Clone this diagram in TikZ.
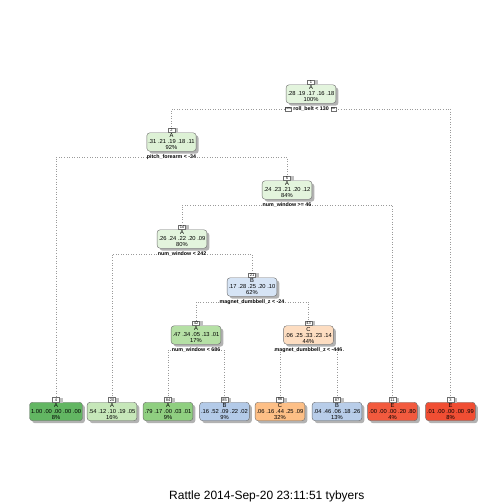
\documentclass[tikz,border=0pt]{standalone}
\usepackage{fontspec}
\setmainfont{Liberation Sans}
\usetikzlibrary{shadows}
\definecolor{gA0}{HTML}{E3F4DD}
\definecolor{gA1}{HTML}{DDF1D5}
\definecolor{gA2}{HTML}{B5E0A5}
\definecolor{gA3}{HTML}{62B662}
\definecolor{gA4}{HTML}{C6E7B9}
\definecolor{gA5}{HTML}{8FCF80}
\definecolor{bB0}{HTML}{D6E4F5}
\definecolor{bB1}{HTML}{B3CAE8}
\definecolor{bB2}{HTML}{B8CDE9}
\definecolor{oC0}{HTML}{FDDDC1}
\definecolor{oC1}{HTML}{FDBF86}
\definecolor{rE0}{HTML}{F25A3E}
\definecolor{rE1}{HTML}{F04E33}
\definecolor{boxline}{HTML}{6E6E6E}
\definecolor{connline}{HTML}{9A9A9A}
\begin{document}
\begin{tikzpicture}[x=1pt,y=-1pt,
  tnode/.style={draw=boxline, line width=0.4pt, rounded corners=3pt, align=center,
    font=\fontsize{5.8}{6}\selectfont, inner xsep=1.5pt, inner ysep=1.2pt,
    drop shadow={shadow xshift=2.5pt, shadow yshift=-2.5pt, fill=black!30, opacity=1}},
  nn/.style={draw=boxline, line width=0.3pt, fill=white, font=\fontsize{4}{4}\selectfont,
    inner sep=0.5pt, minimum width=7pt, minimum height=4.6pt, anchor=south,
    drop shadow={shadow xshift=3pt, shadow yshift=-0.6pt, fill=black!25, opacity=1}},
  yn/.style={draw=boxline, line width=0.3pt, fill=white, font=\fontsize{3.6}{4}\selectfont,
    inner sep=0.5pt, minimum height=4.4pt},
  splitlab/.style={font=\bfseries\fontsize{5.3}{5.5}\selectfont, inner sep=0.6pt},
  conn/.style={draw=connline, dotted, line width=0.55pt}
]
\useasboundingbox (0,0) rectangle (504,504);

% internal nodes
\node[tnode, fill=gA0] (n1) at (311,94) {A\\.28 .19 .17 .16 .18\\100\%};
\node[nn] (l1) at (n1.north) {1};
\node[splitlab] (s1) at (311,109) {roll\_belt < 130};
\node[yn, anchor=east] (yes) at ([xshift=-1pt]s1.west) {yes};
\node[yn, anchor=west] (no) at ([xshift=1pt]s1.east) {no};

\node[tnode, fill=gA1] (n2) at (171.5,142) {A\\.31 .21 .19 .18 .11\\92\%};
\node[nn] (l2) at (n2.north) {2};
\node[splitlab] (s2) at (171.5,157) {pitch\_forearm < -34};

\node[tnode, fill=gA0] (n5) at (287,190) {A\\.24 .23 .21 .20 .12\\84\%};
\node[nn] (l5) at (n5.north) {5};
\node[splitlab] (s5) at (287,205) {num\_window >= 46};

\node[tnode, fill=gA0] (n10) at (182,239) {A\\.26 .24 .22 .20 .09\\80\%};
\node[nn] (l10) at (n10.north) {10};
\node[splitlab] (s10) at (182,254) {num\_window < 242};

\node[tnode, fill=bB0] (n21) at (252,287) {B\\.17 .28 .25 .20 .10\\62\%};
\node[nn] (l21) at (n21.north) {21};
\node[splitlab] (s21) at (252,302) {magnet\_dumbbell\_z < -24};

\node[tnode, fill=gA2] (n42) at (196,335) {A\\.47 .34 .05 .13 .01\\17\%};
\node[nn] (l42) at (n42.north) {42};
\node[splitlab] (s42) at (196,350) {num\_window < 686};

\node[tnode, fill=oC0] (n43) at (308.5,335) {C\\.06 .25 .33 .23 .14\\44\%};
\node[nn] (l43) at (n43.north) {43};
\node[splitlab] (s43) at (308.5,350) {magnet\_dumbbell\_z < -446};

% leaves
\node[tnode, fill=gA3] (n4) at (56,411.5) {A\\1.00 .00 .00 .00 .00\\8\%};
\node[nn] (l4) at (n4.north) {4};
\node[tnode, fill=gA4] (n20) at (112,411.5) {A\\.54 .12 .10 .19 .05\\16\%};
\node[nn] (l20) at (n20.north) {20};
\node[tnode, fill=gA5] (n84) at (168,411.5) {A\\.79 .17 .00 .03 .01\\9\%};
\node[nn] (l84) at (n84.north) {84};
\node[tnode, fill=bB1] (n85) at (224.5,411.5) {B\\.16 .52 .09 .22 .02\\9\%};
\node[nn] (l85) at (n85.north) {85};
\node[tnode, fill=oC1] (n86) at (280,411.5) {C\\.06 .16 .44 .25 .09\\32\%};
\node[nn] (l86) at (n86.north) {86};
\node[tnode, fill=bB2] (n87) at (337,411.5) {B\\.04 .46 .06 .18 .26\\13\%};
\node[nn] (l87) at (n87.north) {87};
\node[tnode, fill=rE0] (n11) at (392.5,411.5) {E\\.00 .00 .00 .20 .80\\4\%};
\node[nn] (l11) at (n11.north) {11};
\node[tnode, fill=rE1] (n3) at (450.5,411.5) {E\\.01 .00 .00 .00 .99\\8\%};
\node[nn] (l3) at (n3.north) {3};

% connectors
\draw[conn] (yes.west) -| (l2.north);
\draw[conn] (no.east) -| (l3.north);
\draw[conn] (s2.west) -| (l4.north);
\draw[conn] (s2.east) -| (l5.north);
\draw[conn] (s5.west) -| (l10.north);
\draw[conn] (s5.east) -| (l11.north);
\draw[conn] (s10.west) -| (l20.north);
\draw[conn] (s10.east) -| (l21.north);
\draw[conn] (s21.west) -| (l42.north);
\draw[conn] (s21.east) -| (l43.north);
\draw[conn] (s42.west) -| (l84.north);
\draw[conn] (s42.east) -| (l85.north);
\draw[conn] (s43.west) -| (l86.north);
\draw[conn] (s43.east) -| (l87.north);

% caption
\node[font=\fontsize{12}{12}\selectfont, anchor=base west, inner sep=0pt] (cap) at (169,499) {Rattle 2014-Sep-20 23:11:51 tybyers};
\end{tikzpicture}
\end{document}
